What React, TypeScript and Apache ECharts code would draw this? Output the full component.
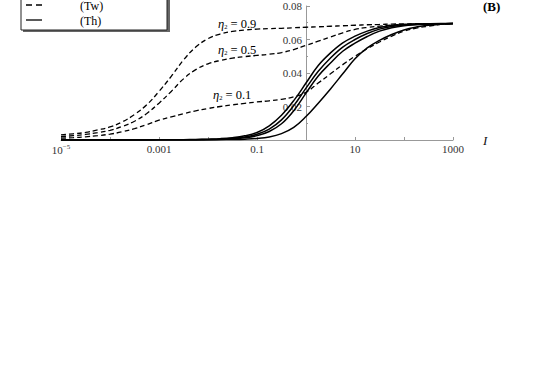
import React, { useEffect, useRef } from "react";
import * as echarts from "echarts";

// x grid (actual I values, quarter-decade steps)
const xs = [
  1e-5, 1.778e-5, 3.162e-5, 5.623e-5, 1e-4, 1.778e-4, 3.162e-4, 5.623e-4, 1e-3, 1.778e-3,
  3.162e-3, 5.623e-3, 0.01, 0.01778, 0.03162, 0.05623, 0.1, 0.1778, 0.3162, 0.5623, 1,
  1.778, 3.162, 5.623, 10, 17.78, 31.62, 56.23, 100, 177.8, 316.2, 562.3, 1000,
];

// dashed curves (Tw)
const tw09 = [
  0.003, 0.0037, 0.0045, 0.006, 0.0078, 0.0108, 0.0152, 0.021, 0.029, 0.038, 0.0478,
  0.0555, 0.0605, 0.0633, 0.0648, 0.0657, 0.0662, 0.0665, 0.0667, 0.067, 0.0673, 0.0676,
  0.0679, 0.0682, 0.0685, 0.0688, 0.069, 0.0692, 0.0693, 0.0694, 0.0694, 0.0695, 0.0695,
];
const tw05 = [
  0.002, 0.0026, 0.0033, 0.0044, 0.0058, 0.0081, 0.0112, 0.0158, 0.022, 0.029, 0.0365,
  0.042, 0.0455, 0.0475, 0.0489, 0.0498, 0.0505, 0.0512, 0.0522, 0.054, 0.0565, 0.059,
  0.0615, 0.064, 0.066, 0.0672, 0.068, 0.0686, 0.069, 0.0692, 0.0694, 0.0695, 0.0695,
];
const tw01 = [
  0.0011, 0.0014, 0.0019, 0.0026, 0.0035, 0.0049, 0.0068, 0.0092, 0.0118, 0.0138, 0.0157,
  0.0174, 0.0188, 0.02, 0.021, 0.0219, 0.0227, 0.0234, 0.0243, 0.0258, 0.0285, 0.034,
  0.0395, 0.045, 0.05, 0.0545, 0.0585, 0.062, 0.065, 0.0668, 0.068, 0.069, 0.0695,
];

// solid curves (Th)
const th1 = [
  0, 0, 0, 0, 0, 0, 0, 0, 0.0001, 0.0001, 0.0002, 0.0003, 0.0005, 0.0008, 0.0014, 0.0025,
  0.0045, 0.0085, 0.0148, 0.0235, 0.034, 0.0445, 0.052, 0.058, 0.062, 0.065, 0.0672, 0.0684,
  0.069, 0.0692, 0.0694, 0.0695, 0.0695,
];
const th2 = [
  0, 0, 0, 0, 0, 0, 0, 0, 0.0001, 0.0001, 0.0001, 0.0002, 0.0003, 0.0005, 0.001, 0.0018,
  0.0034, 0.0065, 0.012, 0.0205, 0.031, 0.041, 0.049, 0.0555, 0.06, 0.0636, 0.0662,
  0.0678, 0.0687, 0.0691, 0.0693, 0.0694, 0.0695,
];
const th3 = [
  0, 0, 0, 0, 0, 0, 0, 0, 0.0001, 0.0001, 0.0001, 0.0001, 0.0002, 0.0004, 0.0007, 0.0013,
  0.0026, 0.0051, 0.0097, 0.0175, 0.028, 0.0382, 0.046, 0.053, 0.0578, 0.0618, 0.065, 0.067,
  0.0682, 0.0688, 0.0692, 0.0694, 0.0695,
];
const th4 = [
  0, 0, 0, 0, 0, 0, 0, 0, 0, 0, 0, 0, 0.0001, 0.0002, 0.0003, 0.0005, 0.0009, 0.0018,
  0.0038, 0.0075, 0.014, 0.022, 0.0305, 0.0395, 0.0485, 0.055, 0.0595, 0.063, 0.0657,
  0.0674, 0.0685, 0.0691, 0.0695,
];

const dashedSeries = [tw09, tw05, tw01];
const solidSeries = [th1, th2, th3, th4];

// tick labels
const xLabelExps = [-5, -3, -1, 1, 3];
const xLabelTexts = ["10{sup|\u22125}", "0.001", "0.1", "10", "1000"];
const yTicks = [0.02, 0.04, 0.06, 0.08];
const etaValues = ["0.9", "0.5", "0.1"];
const legendNames = ["(Tw)", "(Th)"];

const SERIF = "'Liberation Serif', 'Times New Roman', serif";

export default function App() {
  const ref = useRef<HTMLDivElement>(null);

  useEffect(() => {
    if (!ref.current) return;
    const chart = echarts.init(ref.current, undefined, { renderer: "svg" });

    const mk = (ys: number[]) => xs.map((x, i) => [x, ys[i]]);
    const series: any[] = [];
    dashedSeries.forEach((ys, i) => {
      series.push({
        type: "line",
        name: legendNames[0] + i,
        xAxisIndex: 0,
        yAxisIndex: 0,
        data: mk(ys),
        showSymbol: false,
        smooth: 0.4,
        lineStyle: { color: "#000", width: 1.3, type: [5, 3] },
        silent: true,
      });
    });
    solidSeries.forEach((ys, i) => {
      series.push({
        type: "line",
        name: legendNames[1] + i,
        xAxisIndex: 0,
        yAxisIndex: 0,
        data: mk(ys),
        showSymbol: false,
        smooth: 0.4,
        lineStyle: { color: "#000", width: 1.5 },
        silent: true,
      });
    });

    const etaPos = [
      [218, 24],
      [218, 50],
      [213, 95],
    ];

    const graphic: any[] = [
      // legend shadow + box
      { type: "rect", shape: { x: 23, y: -30, width: 147, height: 62 }, style: { fill: "#666" }, z: 100 },
      { type: "rect", shape: { x: 21, y: -30, width: 146, height: 60 }, style: { fill: "#fff", stroke: "#222", lineWidth: 1 }, z: 101 },
      { type: "line", shape: { x1: 26, y1: 5, x2: 42, y2: 5 }, style: { stroke: "#000", lineWidth: 1.3, lineDash: [6, 4] }, z: 102 },
      { type: "line", shape: { x1: 26, y1: 20, x2: 42, y2: 20 }, style: { stroke: "#000", lineWidth: 1.3 }, z: 102 },
      { type: "text", x: 80, y: 5.5, style: { text: legendNames[0], font: `12px ${SERIF}`, fill: "#000", verticalAlign: "middle" }, z: 102 },
      { type: "text", x: 80, y: 20.5, style: { text: legendNames[1], font: `12px ${SERIF}`, fill: "#000", verticalAlign: "middle" }, z: 102 },
      // panel tag
      { type: "text", x: 483, y: 0, style: { text: "(B)", font: `bold 13px ${SERIF}`, fill: "#000", verticalAlign: "top" }, z: 102 },
    ];
    etaValues.forEach((v, i) => {
      graphic.push({
        type: "text",
        x: etaPos[i][0],
        y: etaPos[i][1],
        z: 102,
        style: {
          text: `{e|\u03b7}{s|2}{n| = ${v}}`,
          verticalAlign: "middle",
          rich: {
            e: { fontFamily: SERIF, fontStyle: "italic", fontSize: 12.5, fill: "#000" },
            s: { fontFamily: SERIF, fontSize: 6.5, fill: "#000", padding: [5, 0, 0, 0] },
            n: { fontFamily: SERIF, fontSize: 12.5, fill: "#000" },
          },
        },
      });
    });

    chart.setOption({
      animation: false,
      backgroundColor: "#fff",
      grid: [
        { left: 61, right: 92, top: 6, bottom: 242 },
        { left: 306, right: 92, top: 6, bottom: 242 },
      ],
      xAxis: [
        {
          gridIndex: 0,
          type: "log",
          logBase: 10,
          min: 1e-5,
          max: 1000,
          splitNumber: 8,
          name: "I",
          nameLocation: "end",
          nameGap: 30,
          nameTextStyle: { fontFamily: SERIF, fontStyle: "italic", fontSize: 13, color: "#111", verticalAlign: "middle" },
          axisLine: { show: true, lineStyle: { color: "#999", width: 1 } },
          axisTick: { show: true, inside: true, length: 3, lineStyle: { color: "#999" } },
          splitLine: { show: false },
          axisLabel: {
            interval: 0,
            margin: 3,
            fontFamily: SERIF,
            fontSize: 11,
            color: "#333",
            showMinLabel: true,
            showMaxLabel: true,
            formatter: (val: number) => {
              const e = Math.round(Math.log10(val));
              const i = xLabelExps.indexOf(e);
              return i >= 0 ? xLabelTexts[i] : "";
            },
            rich: {
              sup: { fontFamily: SERIF, fontSize: 7, color: "#333", verticalAlign: "top", padding: [0, 0, 6, 0] },
            },
          },
        },
        { gridIndex: 1, type: "value", min: 0, max: 1, show: false },
      ],
      yAxis: [
        { gridIndex: 0, type: "value", min: 0, max: 0.08, show: false },
        {
          gridIndex: 1,
          type: "value",
          min: 0,
          max: 0.08,
          interval: 0.02,
          axisLine: { show: true, lineStyle: { color: "#999", width: 1 } },
          axisTick: { show: true, inside: true, length: 4, lineStyle: { color: "#999" } },
          minorTick: { show: true, splitNumber: 2, length: 2, lineStyle: { color: "#999" } },
          splitLine: { show: false },
          axisLabel: {
            margin: 4,
            fontFamily: SERIF,
            fontSize: 11,
            color: "#333",
            formatter: (v: number) => {
              const t = yTicks.find((y) => Math.abs(y - v) < 1e-9);
              return t === undefined ? "" : t.toFixed(2);
            },
          },
        },
      ],
      series,
      graphic,
    });

    return () => chart.dispose();
  }, []);

  return (
    <div
      ref={ref}
      style={{ position: "fixed", left: 0, top: 0, width: 545, height: 382 }}
    />
  );
}
